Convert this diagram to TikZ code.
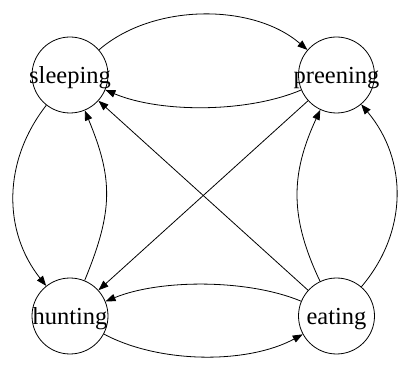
\documentclass[tikz,border=0pt]{standalone}
\usepackage{fontspec}
\setmainfont{Liberation Serif}
\usetikzlibrary{arrows.meta}
\begin{document}
\begin{tikzpicture}[x=1pt,y=-1pt,
  state/.style={circle,draw,line width=0.8pt,minimum size=76pt,inner sep=0pt},
  statename/.style={anchor=base,inner sep=0pt,font=\fontsize{24.5}{29}\selectfont},
  trans/.style={draw,line width=0.8pt,-{Triangle[length=10pt,width=7.5pt]}}]
\useasboundingbox (0,0) rectangle (407,371);

% states
\node[state] (s) at (70,75) {};
\node[state] (p) at (336.5,75) {};
\node[state] (h) at (70,316) {};
\node[state] (e) at (336.5,316) {};

\node[statename] (sl) at ([yshift=-8.5pt]s.center) {sleeping};
\node[statename] (pl) at ([yshift=-8.5pt]p.center) {preening};
\node[statename] (hl) at ([yshift=-8.5pt]h.center) {hunting};
\node[statename] (el) at ([yshift=-8.5pt]e.center) {eating};

% transitions
\draw[trans] (s) .. controls (153,3) and (253,3) .. (p);
\draw[trans] (p) .. controls (247,113) and (160,113) .. (s);
\draw[trans] (s) .. controls (2.7,161) and (2.7,231) .. (h);
\draw[trans] (h) .. controls (113.3,211) and (113.3,179) .. (s);
\draw[trans] (e) -- (s);
\draw[trans] (p) -- (h);
\draw[trans] (e) .. controls (290,218) and (290,175) .. (p);
\draw[trans] (e) .. controls (408,232) and (408,160) .. (p);
\draw[trans] (e) .. controls (248,279) and (160,279) .. (h);
\draw[trans] (h) .. controls (160,364) and (248,364) .. (e);
\end{tikzpicture}
\end{document}
